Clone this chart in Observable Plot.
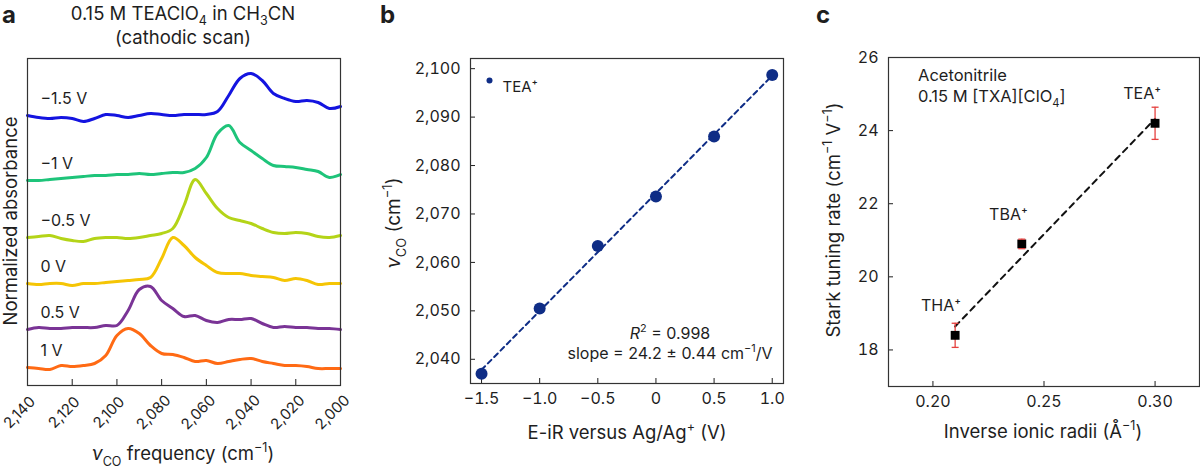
<!DOCTYPE html>
<html><head><meta charset="utf-8">
<script src="https://cdn.jsdelivr.net/npm/d3@7"></script>
<script src="https://cdn.jsdelivr.net/npm/@observablehq/plot@0.6"></script>
<style>
html,body{margin:0;padding:0;background:#fff;}
#wrap{position:relative;width:1200px;height:471px;overflow:hidden;background:#fff;}
#wrap svg{position:absolute;top:0;}
</style></head>
<body><div id="wrap"></div>
<script>
// ---------- Panel a data: IR spectra (stacked, normalized a.u.) ----------
const freq = [2140,2135,2130,2125,2120,2115,2110,2105,2100,2095,2090,2085,2080,2075,2070,2065,2060,2055,2050,2045,2040,2035,2030,2025,2020,2015,2010,2005,2000];
const potLabels = ["\u22121.5 V","\u22121 V","\u22120.5 V","0 V","0.5 V","1 V"];
const potColors = ["#1414e0","#1ec47a","#b4d418","#f5c505","#7a3496","#ff6a14"];
const absM15 = [2.70,2.68,2.67,2.68,2.67,2.64,2.67,2.71,2.70,2.68,2.70,2.72,2.71,2.70,2.71,2.71,2.71,2.74,2.90,3.07,3.12,3.05,2.92,2.87,2.84,2.85,2.83,2.77,2.79];
const absM10 = [2.05,2.05,2.06,2.07,2.08,2.09,2.10,2.10,2.11,2.11,2.12,2.11,2.12,2.13,2.13,2.17,2.28,2.52,2.60,2.43,2.35,2.27,2.20,2.19,2.18,2.16,2.14,2.08,2.11];
const absM05 = [1.48,1.49,1.50,1.47,1.45,1.44,1.47,1.48,1.48,1.47,1.48,1.50,1.52,1.57,1.80,2.06,1.92,1.77,1.68,1.65,1.62,1.57,1.53,1.52,1.53,1.52,1.49,1.48,1.50];
const abs00  = [1.02,1.01,1.02,1.02,1.00,1.02,1.02,1.03,1.04,1.05,1.06,1.08,1.27,1.48,1.40,1.28,1.20,1.13,1.12,1.12,1.10,1.09,1.08,1.05,1.07,1.05,1.01,1.02,1.02];
const absP05 = [0.56,0.58,0.57,0.57,0.58,0.58,0.58,0.60,0.60,0.75,0.96,0.99,0.85,0.77,0.69,0.70,0.65,0.63,0.66,0.66,0.67,0.62,0.58,0.59,0.58,0.58,0.57,0.57,0.56];
const absP10 = [0.18,0.17,0.16,0.20,0.19,0.20,0.22,0.30,0.50,0.57,0.52,0.40,0.32,0.31,0.28,0.24,0.25,0.22,0.24,0.26,0.27,0.24,0.22,0.20,0.20,0.19,0.17,0.17,0.17];
const freqTicks = [2140,2120,2100,2080,2060,2040,2020,2000];

// ---------- Panel b data ----------
const potential = [-1.5,-1.0,-0.5,0,0.5,1.0];
const nuCO = [2037.0,2050.5,2063.4,2073.6,2086.0,2098.7];
const potTicks = [-1.5,-1.0,-0.5,0,0.5,1.0];
const nuTicks = [2040,2050,2060,2070,2080,2090,2100];

// ---------- Panel c data ----------
const cations = ["THA\u207A","TBA\u207A","TEA\u207A"];
const invRadius = [0.21,0.24,0.30];
const starkRate = [18.4,20.9,24.2];
const starkErr = [0.33,0.13,0.44];
const radTicks = [0.20,0.25,0.30];
const starkTicks = [18,20,22,24,26];

const FONT = "Inter, 'Open Sans', Roboto, sans-serif";
const INK = "#1e1e1e";
const NAVY = "#0f2d86";
const RED = "#e5413f";
const spectra = [absM15, absM10, absM05, abs00, absP05, absP10];

function rich(svg, parts, {x, y, anchor = "middle", size = 18, rotate = 0, weight = "normal", subShift = 0.32}) {
  const t = d3.select(svg).append("text")
    .attr("transform", `translate(${x},${y}) rotate(${rotate})`)
    .attr("text-anchor", anchor).attr("font-size", size).attr("font-weight", weight)
    .attr("font-family", FONT).attr("fill", INK);
  let shift = 0;
  for (const p of parts) {
    const [s, mode, style] = typeof p === "string" ? [p, null, null] : p;
    const ts = t.append("tspan").text(s);
    const target = mode === "sub" ? size * subShift : mode === "sup" ? -size * 0.42 : 0;
    if (target !== shift) { ts.attr("dy", target - shift); shift = target; }
    if (mode) ts.attr("font-size", size * 0.68);
    if (style === "italic") ts.attr("font-style", "italic");
  }
  return t;
}

const wrap = document.getElementById("wrap");
const baseStyle = {fontFamily: FONT, fontSize: "16px", color: INK, background: "transparent", overflow: "visible"};

// ================= Panel a =================
const specData = potLabels.flatMap((p, i) => freq.map((f, j) => ({f, a: spectra[i][j], s: p})));
const labData = potLabels.map((p, i) => ({s: p, f: freq[0], a: spectra[i][0]}));
const pa = Plot.plot({
  width: 380, height: 471,
  marginLeft: 27, marginRight: 40, marginTop: 58, marginBottom: 86,
  style: {...baseStyle, fontSize: "15px"},
  x: {domain: [2140, 2000], axis: null},
  y: {domain: [0, 3.27], axis: null},
  color: {domain: potLabels, range: potColors},
  marks: [
    Plot.axisX({ticks: freqTicks, tickSize: -6, tickFormat: () => "", label: null}),
    Plot.text(freqTicks, {x: d => d, frameAnchor: "bottom", text: d3.format(","), rotate: -45,
      textAnchor: "middle", lineAnchor: "middle", dx: -8, dy: 27, fontSize: 15, fill: INK}),
    Plot.line(specData, {x: "f", y: "a", z: "s", stroke: "s", strokeWidth: 3, curve: "catmull-rom"}),
    Plot.text(labData, {x: "f", y: "a", text: "s", dx: 13, dy: -17, textAnchor: "start", fontSize: 16, fill: INK}),
    Plot.frame({stroke: "#333", strokeWidth: 1.2})
  ]
});
pa.style.left = "0px";
wrap.appendChild(pa);
rich(pa, ["a"], {x: 2, y: 23, anchor: "start", size: 24, weight: "bold"});
rich(pa, ["0.15 M TEAClO", ["4", "sub"], " in CH", ["3", "sub"], "CN"], {x: 183, y: 20, size: 18.5, subShift: 0.25});
rich(pa, ["(cathodic scan)"], {x: 183, y: 44, size: 18.5});
rich(pa, ["Normalized absorbance"], {x: 17, y: 221, size: 18.5, rotate: -90});
rich(pa, [["\u03BD", null, "italic"], ["CO", "sub"], " frequency (cm", ["\u22121", "sup"], ")"], {x: 183, y: 460, size: 18.5});

// ================= Panel b =================
const bData = potential.map((v, i) => ({v, n: nuCO[i]}));
const fmtPot = d => d === 0 ? "0" : (d < 0 ? "\u2212" : "") + Math.abs(d).toFixed(1);
const pb = Plot.plot({
  width: 420, height: 471,
  marginLeft: 90, marginRight: 17, marginTop: 58, marginBottom: 88,
  style: baseStyle,
  x: {domain: [-1.595, 1.097], ticks: potTicks, tickFormat: fmtPot, tickSize: -5, tickPadding: 14, label: null},
  y: {domain: [2035, 2102.1], ticks: nuTicks, tickFormat: d3.format(","), tickSize: -5, tickPadding: 15, label: null},
  marks: [
    Plot.linearRegressionY(bData, {x: "v", y: "n", stroke: NAVY, strokeWidth: 2, strokeDasharray: "5,4", ci: 0}),
    Plot.dot(bData, {x: "v", y: "n", r: 6, fill: NAVY}),
    Plot.dot(["TEA\u207A"], {frameAnchor: "top-left", dx: 19, dy: 22, r: 3, fill: NAVY}),
    Plot.text(["TEA\u207A"], {frameAnchor: "top-left", dx: 32, dy: 23, text: d => d, textAnchor: "start", fontSize: 15, fill: INK}),
    Plot.frame({stroke: "#333", strokeWidth: 1.2})
  ]
});
pb.style.left = "380px";
wrap.appendChild(pb);
rich(pb, ["b"], {x: 0, y: 23, anchor: "start", size: 24, weight: "bold"});
rich(pb, [["\u03BD", null, "italic"], ["CO", "sub"], " (cm", ["\u22121", "sup"], ")"], {x: 20, y: 223, size: 19, rotate: -90});
rich(pb, ["E-iR versus Ag/Ag", ["+", "sup"], " (V)"], {x: 247, y: 439, size: 18.5});
rich(pb, [["R", null, "italic"], ["2", "sup"], " = 0.998"], {x: 290, y: 339, size: 16});
rich(pb, ["slope = 24.2 \u00B1 0.44 cm", ["\u22121", "sup"], "/V"], {x: 290, y: 359, size: 16});

// ================= Panel c =================
const cData = cations.map((c, i) => ({c, r: invRadius[i], s: starkRate[i], e: starkErr[i]}));
const capSymbol = {draw(ctx) { ctx.moveTo(-3.5, 0); ctx.lineTo(3.5, 0); }};
const pc = Plot.plot({
  width: 400, height: 471,
  marginLeft: 88, marginRight: 1, marginTop: 57, marginBottom: 85,
  style: baseStyle,
  x: {domain: [0.18, 0.32], ticks: radTicks, tickFormat: d3.format(".2f"), tickSize: -5, tickPadding: 14, label: null},
  y: {domain: [17, 26], ticks: starkTicks, tickSize: -5, tickPadding: 15, label: null},
  marks: [
    Plot.linearRegressionY(cData, {x: "r", y: "s", stroke: "#111", strokeWidth: 2, strokeDasharray: "6,5", ci: 0}),
    Plot.ruleX(cData, {x: "r", y1: d => d.s - d.e, y2: d => d.s + d.e, stroke: RED, strokeWidth: 1.3}),
    Plot.dot(cData, {x: "r", y: "s", symbol: "square", r: 5, fill: "#000"}),
    Plot.dot(cData, {x: "r", y: d => d.s - d.e, symbol: capSymbol, stroke: RED, strokeWidth: 1.3}),
    Plot.dot(cData, {x: "r", y: d => d.s + d.e, symbol: capSymbol, stroke: RED, strokeWidth: 1.3}),
    Plot.text(cData, {x: "r", y: "s", text: "c", dx: 6, dy: -29, textAnchor: "end", fontSize: 16, fill: INK}),
    Plot.frame({stroke: "#333", strokeWidth: 1.2})
  ]
});
pc.style.left = "800px";
wrap.appendChild(pc);
rich(pc, ["c"], {x: 16, y: 23, anchor: "start", size: 24, weight: "bold"});
rich(pc, ["Acetonitrile"], {x: 118, y: 81, anchor: "start", size: 16.5});
rich(pc, ["0.15 M [TXA][ClO", ["4", "sub"], "]"], {x: 118, y: 102, anchor: "start", size: 16.5});
rich(pc, ["Stark tuning rate (cm", ["\u22121", "sup"], " V", ["\u22121", "sup"], ")"], {x: 40, y: 220, size: 18.5, rotate: -90});
rich(pc, ["Inverse ionic radii (\u00C5", ["\u22121", "sup"], ")"], {x: 243, y: 438, size: 18.5});
</script>
</body></html>
